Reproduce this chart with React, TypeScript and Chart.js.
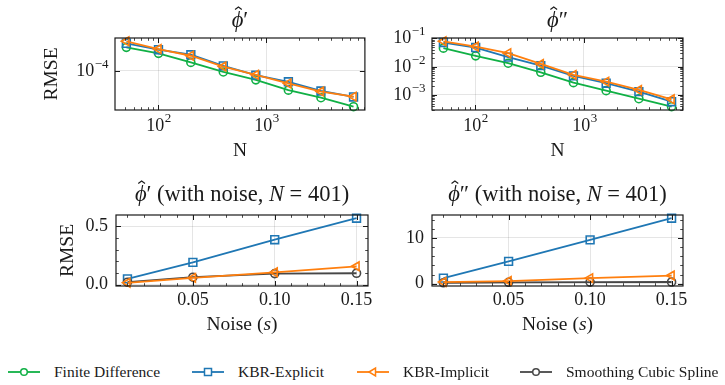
import React, { useEffect, useRef } from 'react';
import { Chart, registerables } from 'chart.js';

Chart.register(...registerables);

// ---------------- data ----------------
const N_VALUES = [51, 101, 201, 401, 801, 1601, 3201, 6401];
const NOISE_LEVELS = [0.01, 0.05, 0.1, 0.15];
const SERIES_NAMES = ['Finite Difference', 'KBR-Explicit', 'KBR-Implicit', 'Smoothing Cubic Spline'];

// first derivative, noise-free
const d1FiniteDiff = [2.45e-4, 1.95e-4, 1.38e-4, 9.6e-5, 7.1e-5, 4.8e-5, 3.6e-5, 2.55e-5];
const d1KbrExplicit = [2.86e-4, 2.24e-4, 1.85e-4, 1.21e-4, 8.5e-5, 6.6e-5, 4.65e-5, 3.7e-5];
const d1KbrImplicit = [3.09e-4, 2.3e-4, 1.78e-4, 1.18e-4, 8.6e-5, 6.2e-5, 4.55e-5, 3.75e-5];

// second derivative, noise-free
const d2FiniteDiff = [4.47e-2, 2.39e-2, 1.32e-2, 6.3e-3, 2.72e-3, 1.42e-3, 7.4e-4, 3.86e-4];
const d2KbrExplicit = [7.05e-2, 4.69e-2, 2.15e-2, 1.08e-2, 4.7e-3, 2.6e-3, 1.31e-3, 5.8e-4];
const d2KbrImplicit = [7.8e-2, 5.09e-2, 2.97e-2, 1.24e-2, 5.1e-3, 2.95e-3, 1.5e-3, 7.07e-4];

// first derivative with noise (N = 401)
const n1KbrExplicit = [0.049, 0.191, 0.386, 0.571];
const n1KbrImplicit = [0.015, 0.057, 0.105, 0.157];
const n1Spline = [0.02, 0.063, 0.094, 0.097];

// second derivative with noise (N = 401)
const n2KbrExplicit = [1.22, 4.86, 9.57, 14.28];
const n2KbrImplicit = [0.36, 0.58, 1.22, 1.78];
const n2Spline = [0.2, 0.3, 0.35, 0.37];

// ---------------- styles ----------------
const FONT = "'Liberation Serif', 'DejaVu Serif', serif";
const TICK_SIZE = 18;
const EXP_SIZE = 13;
const LABEL_SIZE = 19.5;
const TITLE_SIZE = 22.5;
const LEGEND_SIZE = 15.5;
const GRID = 'rgba(0,0,0,0.1)';
const INK = '#1a1a1a';

type SeriesStyle = { color: string; pointStyle: string; rotation: number; radius: number; order: number };
const STYLES: SeriesStyle[] = [
  { color: '#10b045', pointStyle: 'circle', rotation: 0, radius: 4, order: 3 },
  { color: '#1f77b4', pointStyle: 'rect', rotation: 0, radius: 5.5, order: 2 },
  { color: '#ff7f0e', pointStyle: 'triangle', rotation: 270, radius: 5, order: 0 },
  { color: '#474747', pointStyle: 'circle', rotation: 0, radius: 4, order: 1 },
];

Chart.defaults.font.family = FONT;

function isPow10(v: number) {
  const l = Math.log10(v);
  return Math.abs(l - Math.round(l)) < 1e-9;
}

function paddedRange(values: number[], log: boolean, frac = 0.05): [number, number] {
  const vs = log ? values.map((v) => Math.log10(v)) : values;
  const lo = Math.min(...vs);
  const hi = Math.max(...vs);
  const m = (hi - lo) * frac;
  return log ? [Math.pow(10, lo - m), Math.pow(10, hi + m)] : [lo - m, hi + m];
}

type Seg = { t: string; italic?: boolean; hat?: boolean };

function drawRich(ctx: CanvasRenderingContext2D, segs: Seg[], cx: number, cy: number, size: number) {
  const fontFor = (s: Seg) => `${s.italic ? 'italic ' : ''}${size}px ${FONT}`;
  let total = 0;
  const widths = segs.map((s) => {
    ctx.font = fontFor(s);
    const w = ctx.measureText(s.t).width;
    total += w;
    return w;
  });
  let x = cx - total / 2;
  ctx.textAlign = 'left';
  ctx.textBaseline = 'middle';
  ctx.fillStyle = INK;
  segs.forEach((s, i) => {
    ctx.font = fontFor(s);
    ctx.fillText(s.t, x, cy);
    if (s.hat) {
      const hx = x + widths[i] * 0.58;
      const top = cy - size * 0.62;
      ctx.beginPath();
      ctx.moveTo(hx - size * 0.15, top + size * 0.11);
      ctx.lineTo(hx, top);
      ctx.lineTo(hx + size * 0.15, top + size * 0.11);
      ctx.strokeStyle = INK;
      ctx.lineWidth = size * 0.05;
      ctx.stroke();
    }
    x += widths[i];
  });
}

function drawPow(ctx: CanvasRenderingContext2D, exp: number, x: number, y: number, align: 'center' | 'right') {
  const base = '10';
  const e = exp < 0 ? '\u2212' + Math.abs(exp) : String(exp);
  ctx.font = `${TICK_SIZE}px ${FONT}`;
  const wb = ctx.measureText(base).width;
  ctx.font = `${EXP_SIZE}px ${FONT}`;
  const we = ctx.measureText(e).width;
  const start = align === 'center' ? x - (wb + we) / 2 : x - (wb + we);
  ctx.textAlign = 'left';
  ctx.textBaseline = 'middle';
  ctx.fillStyle = INK;
  ctx.font = `${TICK_SIZE}px ${FONT}`;
  ctx.fillText(base, start, y);
  ctx.font = `${EXP_SIZE}px ${FONT}`;
  ctx.fillText(e, start + wb + 0.5, y - 7);
}

type AxisSpec = { log: boolean; minor: boolean; majorStep?: number; minorStep?: number };

function tickValues(scale: any, spec: AxisSpec) {
  const out: { v: number; major: boolean }[] = [];
  if (spec.log) {
    const e0 = Math.floor(Math.log10(scale.min));
    const e1 = Math.ceil(Math.log10(scale.max));
    for (let e = e0; e <= e1; e++) {
      for (let m = 1; m <= 9; m++) {
        const v = m * Math.pow(10, e);
        if (v >= scale.min * (1 - 1e-9) && v <= scale.max * (1 + 1e-9)) {
          if (m === 1 || spec.minor) out.push({ v, major: m === 1 });
        }
      }
    }
  } else {
    const add = (step: number, major: boolean) => {
      const k0 = Math.ceil(scale.min / step - 1e-9);
      const k1 = Math.floor(scale.max / step + 1e-9);
      for (let k = k0; k <= k1; k++) out.push({ v: k * step, major });
    };
    if (spec.minor && spec.minorStep) add(spec.minorStep, false);
    add(spec.majorStep as number, true);
  }
  return out;
}

const decorPlugin = {
  id: 'decor',
  afterDraw(chart: any, _args: any, opts: any) {
    const { ctx, chartArea: a, scales } = chart;
    const xs = scales.x;
    const ys = scales.y;
    ctx.save();
    // ticks (inward, all four sides)
    ctx.strokeStyle = INK;
    for (const t of tickValues(xs, opts.xAxis)) {
      const px = Math.round(xs.getPixelForValue(t.v)) + 0.5;
      const len = t.major ? 5 : 2.8;
      ctx.lineWidth = t.major ? 1 : 0.8;
      ctx.beginPath();
      ctx.moveTo(px, a.bottom);
      ctx.lineTo(px, a.bottom - len);
      ctx.moveTo(px, a.top);
      ctx.lineTo(px, a.top + len);
      ctx.stroke();
      if (t.major && opts.xAxis.log) drawPow(ctx, Math.round(Math.log10(t.v)), px, a.bottom + 16, 'center');
    }
    for (const t of tickValues(ys, opts.yAxis)) {
      const py = Math.round(ys.getPixelForValue(t.v)) + 0.5;
      const len = t.major ? 5 : 2.8;
      ctx.lineWidth = t.major ? 1 : 0.8;
      ctx.beginPath();
      ctx.moveTo(a.left, py);
      ctx.lineTo(a.left + len, py);
      ctx.moveTo(a.right, py);
      ctx.lineTo(a.right - len, py);
      ctx.stroke();
      if (t.major && opts.yAxis.log) drawPow(ctx, Math.round(Math.log10(t.v)), a.left - 7, py, 'right');
    }
    // frame
    ctx.lineWidth = 1.2;
    ctx.strokeStyle = INK;
    ctx.strokeRect(a.left, a.top, a.right - a.left, a.bottom - a.top);
    // texts
    const cx = (a.left + a.right) / 2;
    drawRich(ctx, opts.title, cx, opts.titleY, TITLE_SIZE);
    drawRich(ctx, opts.xTitle, cx, a.bottom + opts.xTitleOffset, LABEL_SIZE);
    if (opts.yTitle) {
      ctx.save();
      ctx.translate(a.left - opts.yTitleOffset, (a.top + a.bottom) / 2);
      ctx.rotate(-Math.PI / 2);
      drawRich(ctx, opts.yTitle, 0, 0, LABEL_SIZE);
      ctx.restore();
    }
    ctx.restore();
  },
};

type PanelSpec = {
  xValues: number[];
  series: { idx: number; values: number[] }[];
  xAxis: AxisSpec;
  yAxis: AxisSpec;
  xFmt?: (v: number) => string;
  yFmt?: (v: number) => string;
  padding: { left: number; top: number; right: number; bottom: number };
  yWidth: number;
  xHeight: number;
  title: Seg[];
  titleY: number;
  xTitle: Seg[];
  xTitleOffset: number;
  yTitle: Seg[] | null;
  yTitleOffset: number;
};

function makeConfig(p: PanelSpec): any {
  const allY = p.series.flatMap((s) => s.values);
  const [xmin, xmax] = paddedRange(p.xValues, p.xAxis.log);
  const [ymin, ymax] = paddedRange(allY, p.yAxis.log);
  const gridColor = (log: boolean) => (c: any) =>
    c.tick && (!log || isPow10(c.tick.value)) ? GRID : 'rgba(0,0,0,0)';
  const zeroPad = (size: 'w' | 'h', val: number) => (s: any) => {
    if (size === 'w') s.width = val;
    else s.height = val;
    s.paddingLeft = 0;
    s.paddingRight = 0;
    s.paddingTop = 0;
    s.paddingBottom = 0;
  };
  return {
    type: 'line',
    data: {
      datasets: p.series.map((s) => {
        const st = STYLES[s.idx];
        return {
          label: SERIES_NAMES[s.idx],
          data: p.xValues.map((x, i) => ({ x, y: s.values[i] })),
          borderColor: st.color,
          backgroundColor: 'rgba(255,255,255,0)',
          pointBackgroundColor: 'rgba(255,255,255,0)',
          pointBorderColor: st.color,
          pointStyle: st.pointStyle,
          pointRotation: st.rotation,
          pointRadius: st.radius,
          pointBorderWidth: 1.6,
          borderWidth: 1.8,
          order: st.order,
          clip: false,
          tension: 0,
        };
      }),
    },
    options: {
      responsive: false,
      animation: false,
      devicePixelRatio: 1,
      layout: { padding: p.padding },
      events: [],
      plugins: {
        legend: { display: false },
        tooltip: { enabled: false },
        title: { display: false },
        decor: {
          xAxis: p.xAxis,
          yAxis: p.yAxis,
          title: p.title,
          titleY: p.titleY,
          xTitle: p.xTitle,
          xTitleOffset: p.xTitleOffset,
          yTitle: p.yTitle,
          yTitleOffset: p.yTitleOffset,
        },
      },
      scales: {
        x: {
          type: p.xAxis.log ? 'logarithmic' : 'linear',
          min: xmin,
          max: xmax,
          afterFit: zeroPad('h', p.xHeight),
          border: { display: false },
          grid: { color: gridColor(p.xAxis.log), drawTicks: false, lineWidth: 1 },
          ticks: p.xAxis.log
            ? { display: false }
            : {
                display: true,
                stepSize: p.xAxis.majorStep,
                includeBounds: false,
                autoSkip: false,
                maxRotation: 0,
                padding: 3,
                color: INK,
                font: { size: TICK_SIZE, family: FONT },
                callback: (v: any) => (p.xFmt ? p.xFmt(Number(v)) : String(v)),
              },
        },
        y: {
          type: p.yAxis.log ? 'logarithmic' : 'linear',
          min: ymin,
          max: ymax,
          afterFit: zeroPad('w', p.yWidth),
          border: { display: false },
          grid: { color: gridColor(p.yAxis.log), drawTicks: false, lineWidth: 1 },
          ticks: p.yAxis.log
            ? { display: false }
            : {
                display: true,
                stepSize: p.yAxis.majorStep,
                includeBounds: false,
                autoSkip: false,
                padding: 8,
                color: INK,
                font: { size: TICK_SIZE, family: FONT },
                callback: (v: any) => (p.yFmt ? p.yFmt(Number(v)) : String(v)),
              },
        },
      },
    },
    plugins: [decorPlugin],
  };
}

const PHI: Seg = { t: '\u03D5', italic: true, hat: true };

const panels: { spec: PanelSpec; left: number; top: number; width: number; height: number }[] = [
  {
    left: 0,
    top: 0,
    width: 372,
    height: 165,
    spec: {
      xValues: N_VALUES,
      series: [
        { idx: 0, values: d1FiniteDiff },
        { idx: 1, values: d1KbrExplicit },
        { idx: 2, values: d1KbrImplicit },
      ],
      xAxis: { log: true, minor: true },
      yAxis: { log: true, minor: false },
      padding: { left: 0, top: 38, right: 5, bottom: 35 },
      yWidth: 115,
      xHeight: 20,
      title: [PHI, { t: '\u2032' }],
      titleY: 21,
      xTitle: [{ t: 'N' }],
      xTitleOffset: 41,
      yTitle: [{ t: 'RMSE' }],
      yTitleOffset: 63,
    },
  },
  {
    left: 372,
    top: 0,
    width: 353,
    height: 165,
    spec: {
      xValues: N_VALUES,
      series: [
        { idx: 0, values: d2FiniteDiff },
        { idx: 1, values: d2KbrExplicit },
        { idx: 2, values: d2KbrImplicit },
      ],
      xAxis: { log: true, minor: true },
      yAxis: { log: true, minor: true },
      padding: { left: 0, top: 38, right: 42, bottom: 35 },
      yWidth: 60,
      xHeight: 20,
      title: [PHI, { t: '\u2033' }],
      titleY: 21,
      xTitle: [{ t: 'N' }],
      xTitleOffset: 41,
      yTitle: null,
      yTitleOffset: 0,
    },
  },
  {
    left: 0,
    top: 165,
    width: 380,
    height: 180,
    spec: {
      xValues: NOISE_LEVELS,
      series: [
        { idx: 1, values: n1KbrExplicit },
        { idx: 2, values: n1KbrImplicit },
        { idx: 3, values: n1Spline },
      ],
      xAxis: { log: false, minor: true, majorStep: 0.05, minorStep: 0.01 },
      yAxis: { log: false, minor: true, majorStep: 0.5, minorStep: 0.1 },
      xFmt: (v) => v.toFixed(2),
      yFmt: (v) => v.toFixed(1),
      padding: { left: 0, top: 50, right: 12, bottom: 37 },
      yWidth: 116,
      xHeight: 22,
      title: [PHI, { t: '\u2032 (with noise, ' }, { t: 'N', italic: true }, { t: ' = 401)' }],
      titleY: 30,
      xTitle: [{ t: 'Noise (' }, { t: 's', italic: true }, { t: ')' }],
      xTitleOffset: 39,
      yTitle: [{ t: 'RMSE' }],
      yTitleOffset: 48,
    },
  },
  {
    left: 372,
    top: 165,
    width: 353,
    height: 180,
    spec: {
      xValues: NOISE_LEVELS,
      series: [
        { idx: 1, values: n2KbrExplicit },
        { idx: 2, values: n2KbrImplicit },
        { idx: 3, values: n2Spline },
      ],
      xAxis: { log: false, minor: true, majorStep: 0.05, minorStep: 0.01 },
      yAxis: { log: false, minor: true, majorStep: 10, minorStep: 2 },
      xFmt: (v) => v.toFixed(2),
      yFmt: (v) => v.toFixed(0),
      padding: { left: 0, top: 50, right: 42, bottom: 37 },
      yWidth: 60,
      xHeight: 22,
      title: [PHI, { t: '\u2033 (with noise, ' }, { t: 'N', italic: true }, { t: ' = 401)' }],
      titleY: 30,
      xTitle: [{ t: 'Noise (' }, { t: 's', italic: true }, { t: ')' }],
      xTitleOffset: 39,
      yTitle: null,
      yTitleOffset: 0,
    },
  },
];

function Panel({ spec, left, top, width, height }: { spec: PanelSpec; left: number; top: number; width: number; height: number }) {
  const ref = useRef<HTMLCanvasElement>(null);
  useEffect(() => {
    const chart = new Chart(ref.current as HTMLCanvasElement, makeConfig(spec));
    return () => chart.destroy();
  }, [spec]);
  return (
    <canvas
      ref={ref}
      width={width}
      height={height}
      style={{ position: 'absolute', left, top, width, height, display: 'block' }}
    />
  );
}

function LegendMarker({ idx }: { idx: number }) {
  const st = STYLES[idx];
  const cx = 16;
  const cy = 8;
  let marker: React.ReactNode;
  if (st.pointStyle === 'circle') {
    marker = <circle cx={cx} cy={cy} r={3.3} fill="white" stroke={st.color} strokeWidth={1.5} />;
  } else if (st.pointStyle === 'rect') {
    marker = <rect x={cx - 3.5} y={cy - 3.5} width={7} height={7} fill="white" stroke={st.color} strokeWidth={1.5} />;
  } else {
    marker = (
      <polygon
        points={`${cx - 4},${cy} ${cx + 2.5},${cy - 4} ${cx + 2.5},${cy + 4}`}
        fill="white"
        stroke={st.color}
        strokeWidth={1.5}
      />
    );
  }
  return (
    <svg width={32} height={16} style={{ display: 'block' }}>
      <line x1={0} y1={cy} x2={32} y2={cy} stroke={st.color} strokeWidth={1.8} />
      {marker}
    </svg>
  );
}

const LEGEND_LEFT = [8, 192, 357, 520];

export default function App() {
  return (
    <div style={{ position: 'absolute', left: 0, top: 0, width: 725, height: 385, background: 'white', overflow: 'hidden' }}>
      {panels.map((p, i) => (
        <Panel key={i} {...p} />
      ))}
      {SERIES_NAMES.map((name, i) => (
        <div
          key={name}
          style={{
            position: 'absolute',
            left: LEGEND_LEFT[i],
            top: 363,
            height: 18,
            display: 'flex',
            alignItems: 'center',
            font: `${LEGEND_SIZE}px ${FONT}`,
            color: INK,
            whiteSpace: 'nowrap',
          }}
        >
          <LegendMarker idx={i} />
          <span style={{ marginLeft: 14 }}>{name}</span>
        </div>
      ))}
    </div>
  );
}
